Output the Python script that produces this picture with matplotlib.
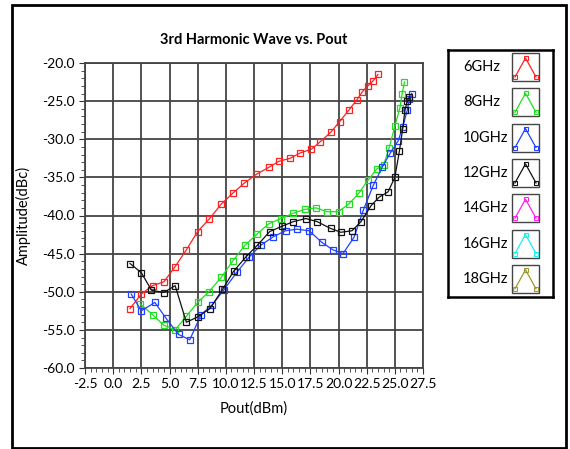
import matplotlib.pyplot as plt
import matplotlib.patches as patches
from matplotlib.ticker import MultipleLocator

# data
pout_6 = [1.5, 2.5, 3.5, 4.5, 5.5, 6.5, 7.5, 8.5, 9.6, 10.6, 11.6, 12.7, 13.8, 14.7, 15.7,
          16.6, 17.6, 18.4, 19.3, 20.1, 20.9, 21.6, 22.1, 22.6, 23.1, 23.5]
amp_6 = [-52.2, -50.3, -49.2, -48.7, -46.7, -44.5, -42.1, -40.5, -38.5, -37.1, -35.8, -34.6,
         -33.7, -32.9, -32.5, -31.8, -31.3, -30.3, -29.1, -27.7, -26.2, -24.9, -23.8, -23.0,
         -22.3, -21.5]

pout_8 = [2.4, 3.5, 4.5, 5.5, 6.5, 7.5, 8.5, 9.6, 10.6, 11.7, 12.8, 13.8, 14.9, 16.0, 17.0,
          18.0, 19.0, 20.0, 20.9, 21.8, 22.6, 23.4, 24.0, 24.5, 25.0, 25.45, 25.65, 25.85]
amp_8 = [-51.6, -53.0, -54.4, -55.0, -53.2, -51.4, -50.0, -48.1, -46.0, -43.9, -42.4, -41.1,
         -40.4, -39.7, -39.2, -39.0, -39.5, -39.5, -38.5, -37.1, -35.4, -33.9, -33.4, -31.1,
         -28.3, -25.9, -24.0, -22.5]

pout_10 = [1.6, 2.5, 3.7, 4.7, 5.8, 6.8, 7.8, 8.8, 9.8, 11.0, 12.1, 13.1, 14.2, 15.3, 16.3,
           17.4, 18.5, 19.5, 20.4, 21.4, 22.2, 23.1, 23.9, 24.6, 25.3, 25.7, 26.1, 26.3, 26.5]
amp_10 = [-50.3, -52.5, -51.4, -53.5, -55.6, -56.3, -53.0, -51.7, -49.8, -47.4, -45.4, -43.9,
          -42.8, -42.0, -41.8, -42.0, -43.5, -44.5, -45.0, -42.8, -39.3, -36.0, -33.6, -31.8,
          -30.2, -28.4, -26.2, -24.7, -24.0]

pout_12 = [1.5, 2.5, 3.4, 4.5, 5.5, 6.5, 7.5, 8.6, 9.7, 10.7, 11.8, 12.8, 13.9, 15.0, 16.0,
           17.1, 18.1, 19.3, 20.2, 21.2, 22.0, 22.9, 23.6, 24.4, 25.0, 25.4, 25.7, 25.9, 26.1, 26.3]
amp_12 = [-46.3, -47.5, -49.8, -50.1, -49.2, -54.0, -53.3, -52.2, -49.7, -47.3, -45.4, -43.9,
          -42.1, -41.4, -40.8, -40.4, -40.8, -41.7, -42.2, -42.0, -40.8, -38.7, -37.6, -36.9,
          -35.0, -31.6, -28.6, -26.2, -25.0, -24.4]

labels = ['6GHz', '8GHz', '10GHz', '12GHz', '14GHz', '16GHz', '18GHz']
colors = ['#ff2020', '#22dd22', '#2040ff', '#111111', '#ff22ee', '#22eeee', '#999933']

series = [(pout_6, amp_6), (pout_8, amp_8), (pout_10, amp_10), (pout_12, amp_12)]

plt.rcParams['font.family'] = ['Lato', 'DejaVu Sans']

fig = plt.figure(figsize=(5.7, 4.49), dpi=100)

# outer frame
fig.add_artist(patches.Rectangle((12 / 570, 1 - 448 / 449), 554 / 570, 443 / 449,
                                 transform=fig.transFigure, fill=False, ec='black', lw=2))

ax = fig.add_axes([85 / 570, 1 - 368 / 449, 338 / 570, 305 / 449])
for (px, py), c in zip(series, colors):
    ax.plot(px, py, color=c, lw=0.9, marker='s', ms=4.5, mfc='none', mec=c, mew=0.9)

ax.set_xlim(-2.5, 27.5)
ax.set_ylim(-60, -20)
ax.xaxis.set_major_locator(MultipleLocator(2.5))
ax.xaxis.set_minor_locator(MultipleLocator(0.5))
ax.yaxis.set_major_locator(MultipleLocator(5))
ax.yaxis.set_minor_locator(MultipleLocator(1))
ax.xaxis.set_major_formatter(lambda v, p: f'{v:.1f}')
ax.yaxis.set_major_formatter(lambda v, p: f'{v:.1f}')
ax.grid(True, which='major', color='#444444', lw=1.3)
ax.tick_params(which='both', direction='out', labelsize=10, color='#333333')
ax.tick_params(which='major', length=4)
ax.tick_params(which='minor', length=3)
for s in ax.spines.values():
    s.set_color('#444444')
    s.set_linewidth(1.3)

ax.set_title('3rd Harmonic Wave vs. Pout', fontsize=10.5, fontweight='bold', pad=14)
ax.set_xlabel('Pout(dBm)', fontsize=10.5, labelpad=8)
ax.set_ylabel('Amplitude(dBc)', fontsize=10.5, labelpad=8)

# legend box drawn by hand like the instrument software
lg = fig.add_axes([448 / 570, 1 - 297 / 449, 105 / 570, 247 / 449])
lg.set_xlim(0, 105)
lg.set_ylim(247, 0)
lg.set_xticks([])
lg.set_yticks([])
for s in lg.spines.values():
    s.set_linewidth(1.8)
for i, (lab, c) in enumerate(zip(labels, colors)):
    top = 3 + i * 35.3
    lg.text(15, top + 14, lab, fontsize=10.5, va='center', ha='left')
    lg.add_patch(patches.Rectangle((64, top), 27, 28, fill=False, ec='#444444', lw=1))
    lg.plot([67, 77.5, 88], [top + 24, top + 5, top + 24], color=c, lw=0.9,
            marker='s', ms=3.5, mfc='none', mec=c, mew=0.8)

fig.savefig('out.png', dpi=100)
